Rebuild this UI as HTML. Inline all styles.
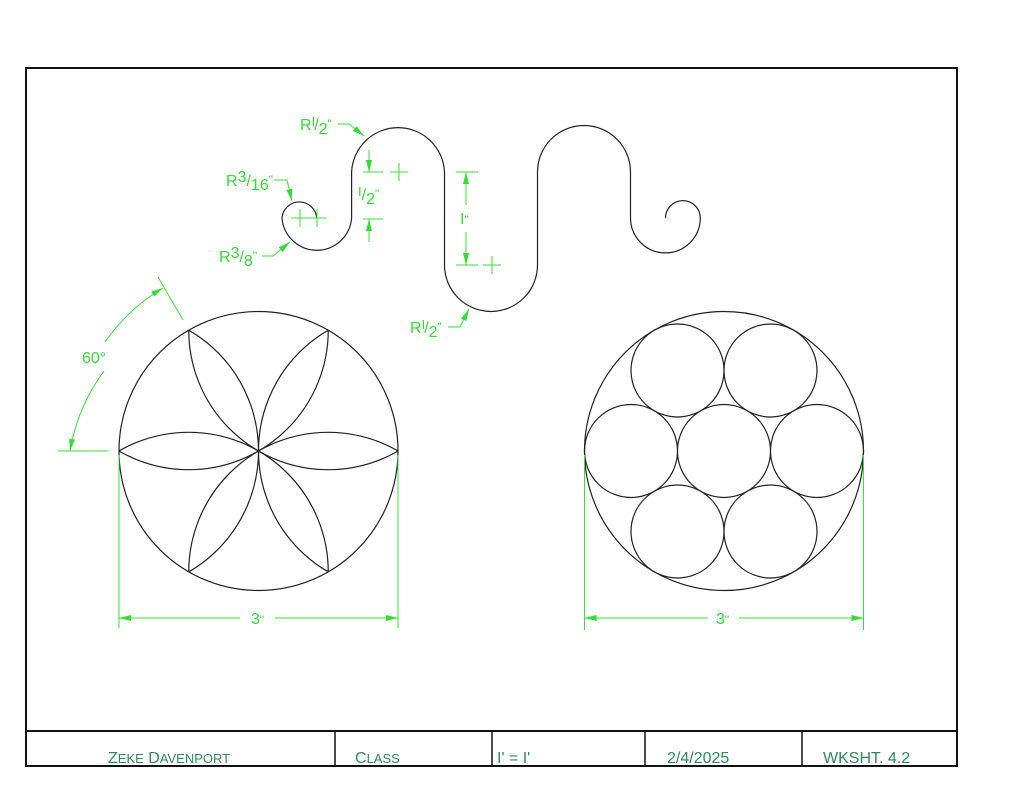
<!DOCTYPE html>
<html><head><meta charset="utf-8"><style>
html,body{margin:0;padding:0;background:#fff;width:1024px;height:791px;overflow:hidden}
svg{display:block}
.g{stroke:#33e633;fill:none;stroke-width:1}
.gt{fill:#33dd33;font-family:"Liberation Sans",sans-serif;font-size:16px}
.k{stroke:#222;fill:none;stroke-width:1.2}
.tt{fill:#2e8b57;font-family:"Liberation Sans",sans-serif;font-size:16px}
</style></head><body>
<svg width="1024" height="791" viewBox="0 0 1024 791">
<defs>
<clipPath id="cc"><circle cx="258.5" cy="451" r="139.5"/></clipPath>
<marker id="ar" markerWidth="12" markerHeight="6" refX="12" refY="3" orient="auto" markerUnits="userSpaceOnUse"><path d="M0,0 L12,3 L0,6 z" fill="#33dd33"/></marker>
</defs>
<rect x="26" y="68" width="931" height="698" fill="none" stroke="#111" stroke-width="2"/>
<line x1="26" y1="731" x2="957" y2="731" stroke="#111" stroke-width="2"/>
<g stroke="#111" stroke-width="1.5">
<line x1="335" y1="731" x2="335" y2="766"/><line x1="492" y1="731" x2="492" y2="766"/>
<line x1="645" y1="731" x2="645" y2="766"/><line x1="802" y1="731" x2="802" y2="766"/>
</g>
<text class="tt" x="108" y="763">Z<tspan font-size="13">EKE</tspan> D<tspan font-size="13">AVENPORT</tspan></text>
<text class="tt" x="355" y="763">C<tspan font-size="13">LASS</tspan></text>
<text class="tt" x="497" y="763">I' = I'</text>
<text class="tt" x="667" y="763">2/4/2025</text>
<text class="tt" x="823" y="763">WKSHT. 4.2</text>

<path class="k" d="M316.7,218 A17.4,17.4 0 0 0 282,218 A34.9,34.9 0 0 0 351.6,218 L351.6,172 A46.5,46.5 0 0 1 444.5,172 L444.5,265 A46.5,46.5 0 0 0 537.5,265 L537.5,172 A46.5,46.5 0 0 1 630.5,172 L630.5,218 A34.9,34.9 0 0 0 700.3,218 A17.4,17.4 0 0 0 665.5,218"/>

<g class="g">
<path d="M291,218h18M300,209v18M308,218h18M317,209v18"/>
<path d="M390,172h18M399,163v18"/>
<path d="M483,265h18M492,256v18"/>
<path d="M363,172h20M363,219h20"/>
<line x1="369" y1="150" x2="369" y2="172" marker-end="url(#ar)"/>
<line x1="369" y1="242" x2="369" y2="219" marker-end="url(#ar)"/>
<path d="M456,172h22M456,265h22"/>
<line x1="466" y1="205" x2="466" y2="172" marker-end="url(#ar)"/>
<line x1="466" y1="232" x2="466" y2="265" marker-end="url(#ar)"/>
<polyline points="338,124 349,124 364,136" marker-end="url(#ar)" fill="none"/>
<polyline points="274,180 287,180 292,201" marker-end="url(#ar)" fill="none"/>
<polyline points="262,256 273,256 290,242" marker-end="url(#ar)" fill="none"/>
<polyline points="448,327 460,327 469,309" marker-end="url(#ar)" fill="none"/>
</g>
<text class="gt" x="300" y="130">R<tspan font-size="13" dy="-4">I</tspan><tspan dx="-1" dy="4">/</tspan><tspan dy="4">2</tspan><tspan dy="-6" font-size="12">"</tspan></text>
<text class="gt" x="226" y="186">R<tspan dy="-4">3</tspan><tspan dy="4">/</tspan><tspan dy="4">16</tspan><tspan dy="-6" font-size="12">"</tspan></text>
<text class="gt" x="219" y="262">R<tspan dy="-4">3</tspan><tspan dy="4">/</tspan><tspan dy="4">8</tspan><tspan dy="-6" font-size="12">"</tspan></text>
<text class="gt" x="410" y="333">R<tspan font-size="13" dy="-4">I</tspan><tspan dx="-1" dy="4">/</tspan><tspan dy="4">2</tspan><tspan dy="-6" font-size="12">"</tspan></text>
<text class="gt" x="358" y="196"><tspan font-size="13">I</tspan><tspan dy="4">/</tspan><tspan dy="4">2</tspan><tspan dy="-6" font-size="12">"</tspan></text>
<text class="gt" x="460" y="224">I<tspan font-size="12">"</tspan></text>

<circle class="k" cx="258.5" cy="451" r="139.5"/>
<g clip-path="url(#cc)" class="k">
<circle cx="398" cy="451" r="139.5"/><circle cx="119" cy="451" r="139.5"/>
<circle cx="328.25" cy="330.2" r="139.5"/><circle cx="188.75" cy="330.2" r="139.5"/>
<circle cx="328.25" cy="571.8" r="139.5"/><circle cx="188.75" cy="571.8" r="139.5"/>
</g>

<circle class="k" cx="724" cy="451" r="139.5"/>
<g class="k">
<circle cx="724" cy="451" r="46.5"/>
<circle cx="817" cy="451" r="46.5"/><circle cx="631" cy="451" r="46.5"/>
<circle cx="770.5" cy="370.5" r="46.5"/><circle cx="677.5" cy="370.5" r="46.5"/>
<circle cx="770.5" cy="531.5" r="46.5"/><circle cx="677.5" cy="531.5" r="46.5"/>
</g>

<g class="g">
<path d="M119,455V628M398,455V628"/>
<line x1="240" y1="618" x2="119" y2="618" marker-end="url(#ar)"/>
<line x1="275" y1="618" x2="398" y2="618" marker-end="url(#ar)"/>
<path d="M584.5,455V630M863.5,455V630"/>
<line x1="708" y1="618" x2="584.5" y2="618" marker-end="url(#ar)"/>
<line x1="739" y1="618" x2="863.5" y2="618" marker-end="url(#ar)"/>
<path d="M58,451H108M158,277L183,320"/>
<path d="M104,371 A188.5,188.5 0 0 0 70,451" marker-end="url(#ar)"/>
<path d="M105,342 A188.5,188.5 0 0 1 163,288" marker-end="url(#ar)"/>
</g>
<text class="gt" x="251" y="624">3<tspan font-size="12">"</tspan></text>
<text class="gt" x="716" y="624">3<tspan font-size="12">"</tspan></text>
<text class="gt" x="82" y="363">60°</text>
</svg>
</body></html>
